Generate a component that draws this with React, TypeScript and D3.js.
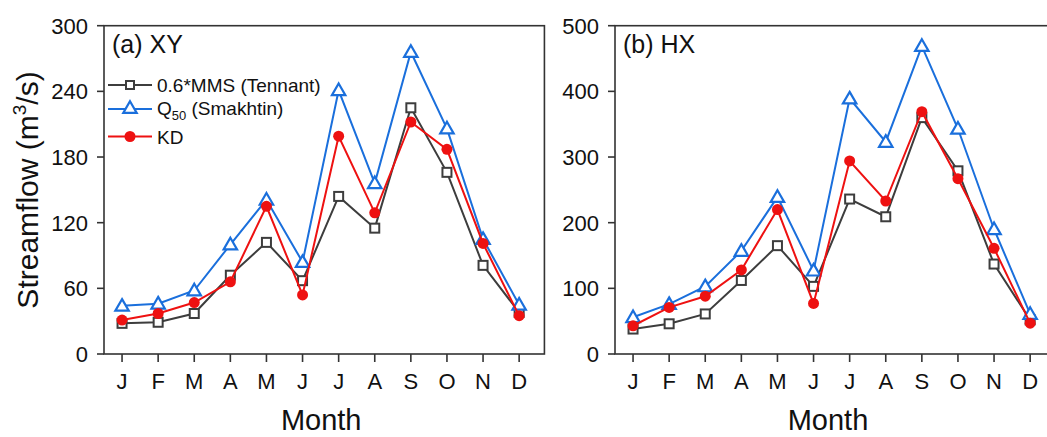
import React, { useEffect, useRef } from 'react'
import * as d3 from 'd3'

const months = ['J', 'F', 'M', 'A', 'M', 'J', 'J', 'A', 'S', 'O', 'N', 'D']

// (a) XY
const xyTennant = [28, 29, 37, 72, 102, 67, 144, 115, 225, 166, 81, 38]
const xySmakhtin = [44, 46, 58, 100, 141, 84, 241, 156, 276, 206, 105, 45]
const xyKD = [31, 37, 47, 66, 135, 54, 199, 129, 212, 187, 101, 35]
const xyTicks = [0, 60, 120, 180, 240, 300]

// (b) HX
const hxTennant = [38, 46, 61, 112, 165, 103, 236, 209, 360, 279, 137, 52]
const hxSmakhtin = [56, 76, 103, 157, 239, 127, 389, 323, 469, 343, 190, 61]
const hxKD = [43, 71, 88, 128, 220, 77, 294, 233, 369, 267, 161, 47]
const hxTicks = [0, 100, 200, 300, 400, 500]

const GRAY = '#3d3d3d'
const BLUE = '#1a6fdc'
const RED = '#ee1111'
const FONT = 'Liberation Sans, Arial, sans-serif'

export default function App() {
  const svgRef = useRef<SVGSVGElement | null>(null)

  useEffect(() => {
    const width = 1047, height = 437
    const svg = d3.select(svgRef.current).attr('width', width).attr('height', height)
    svg.selectAll('*').remove()
    svg.append('rect').attr('width', width).attr('height', height).attr('fill', '#fff')

    const top = 25.7, bottom = 354

    const panels = [
      { x0: 104, title: '(a) XY', max: 300, ticks: xyTicks, tennant: xyTennant, smakhtin: xySmakhtin, kd: xyKD },
      { x0: 615, title: '(b) HX', max: 500, ticks: hxTicks, tennant: hxTennant, smakhtin: hxSmakhtin, kd: hxKD },
    ]

    const tri = d3.symbol().type(d3.symbolTriangle).size(78)

    panels.forEach((p, pi) => {
      const x = d3.scaleLinear().domain([0.5, 12.7]).range([p.x0, p.x0 + 12.2 * 36.1])
      const y = d3.scaleLinear().domain([0, p.max]).range([bottom, top])
      const g = svg.append('g')
      const x1 = x(12.7)

      // frame
      g.append('rect').attr('x', p.x0).attr('y', top).attr('width', x1 - p.x0).attr('height', bottom - top)
        .attr('fill', 'none').attr('stroke', '#333').attr('stroke-width', 1.6)

      // y ticks
      p.ticks.forEach(t => {
        g.append('line').attr('x1', p.x0 - 7).attr('x2', p.x0).attr('y1', y(t)).attr('y2', y(t))
          .attr('stroke', '#333').attr('stroke-width', 1.6)
        g.append('text').attr('x', p.x0 - 16).attr('y', y(t) + 8).attr('text-anchor', 'end')
          .attr('font-family', FONT).attr('font-size', 22).attr('fill', '#111').text(t)
      })
      // x ticks
      months.forEach((m, i) => {
        g.append('line').attr('x1', x(i + 1)).attr('x2', x(i + 1)).attr('y1', bottom).attr('y2', bottom + 8)
          .attr('stroke', '#333').attr('stroke-width', 1.6)
        g.append('text').attr('x', x(i + 1)).attr('y', 389).attr('text-anchor', 'middle')
          .attr('font-family', FONT).attr('font-size', 22).attr('fill', '#111').text(m)
      })

      g.append('text').attr('x', (p.x0 + Math.min(x1, 1047)) / 2 - 3).attr('y', 430).attr('text-anchor', 'middle')
        .attr('font-family', FONT).attr('font-size', 29).attr('fill', '#111').text('Month')

      g.append('text').attr('x', p.x0 + 8).attr('y', 52.5)
        .attr('font-family', FONT).attr('font-size', 25).attr('fill', '#111').text(p.title)

      const line = d3.line<number>().x((_, i) => x(i + 1)).y(d => y(d))

      // Tennant - hollow squares
      g.append('path').attr('d', line(p.tennant)).attr('fill', 'none').attr('stroke', GRAY).attr('stroke-width', 2)
      g.selectAll('.sq').data(p.tennant).join('rect').attr('class', 'sq')
        .attr('x', (_, i) => x(i + 1) - 4.5).attr('y', d => y(d) - 4.5).attr('width', 9).attr('height', 9)
        .attr('fill', '#fff').attr('stroke', GRAY).attr('stroke-width', 2)

      // Smakhtin - hollow triangles
      g.append('path').attr('d', line(p.smakhtin)).attr('fill', 'none').attr('stroke', BLUE).attr('stroke-width', 2)
      g.selectAll('.tri').data(p.smakhtin).join('path').attr('class', 'tri')
        .attr('d', tri()).attr('transform', (d, i) => `translate(${x(i + 1)},${y(d) + 1})`)
        .attr('fill', '#fff').attr('stroke', BLUE).attr('stroke-width', 2.2)

      // KD - filled circles
      g.append('path').attr('d', line(p.kd)).attr('fill', 'none').attr('stroke', RED).attr('stroke-width', 2)
      g.selectAll('.dot').data(p.kd).join('circle').attr('class', 'dot')
        .attr('cx', (_, i) => x(i + 1)).attr('cy', d => y(d)).attr('r', 5.5).attr('fill', RED)

      if (pi === 0) {
        // legend
        const lg = svg.append('g')
        const rows = [
          { y: 85, color: GRAY, kind: 'sq' },
          { y: 109, color: BLUE, kind: 'tri' },
          { y: 136.5, color: RED, kind: 'dot' },
        ]
        rows.forEach(r => {
          lg.append('line').attr('x1', 108).attr('x2', 152).attr('y1', r.y).attr('y2', r.y)
            .attr('stroke', r.color).attr('stroke-width', 2)
          if (r.kind === 'sq') {
            lg.append('rect').attr('x', 126).attr('y', r.y - 4).attr('width', 8).attr('height', 8)
              .attr('fill', '#fff').attr('stroke', r.color).attr('stroke-width', 2)
          } else if (r.kind === 'tri') {
            lg.append('path').attr('d', tri()).attr('transform', `translate(130,${r.y})`)
              .attr('fill', '#fff').attr('stroke', r.color).attr('stroke-width', 2.2)
          } else {
            lg.append('circle').attr('cx', 130).attr('cy', r.y).attr('r', 5.5).attr('fill', r.color)
          }
        })
        lg.append('text').attr('x', 157).attr('y', 92).attr('font-family', FONT).attr('font-size', 19).attr('fill', '#111')
          .text('0.6*MMS (Tennant)')
        const t2 = lg.append('text').attr('x', 157).attr('y', 115).attr('font-family', FONT).attr('font-size', 19).attr('fill', '#111')
        t2.append('tspan').text('Q')
        t2.append('tspan').attr('font-size', 13).attr('dy', 5).text('50')
        t2.append('tspan').attr('dy', -5).text(' (Smakhtin)')
        lg.append('text').attr('x', 157).attr('y', 143.5).attr('font-family', FONT).attr('font-size', 19).attr('fill', '#111').text('KD')
      }
    })

    // y label
    const yl = svg.append('text').attr('transform', 'translate(38,190) rotate(-90)').attr('text-anchor', 'middle')
      .attr('font-family', FONT).attr('font-size', 30).attr('fill', '#111')
    yl.append('tspan').text('Streamflow (m')
    yl.append('tspan').attr('font-size', 19).attr('dy', -12).text('3')
    yl.append('tspan').attr('dy', 12).text('/s)')
  }, [])

  return (
    <div style={{ position: 'absolute', left: 0, top: 0 }}>
      <svg ref={svgRef}></svg>
    </div>
  )
}
